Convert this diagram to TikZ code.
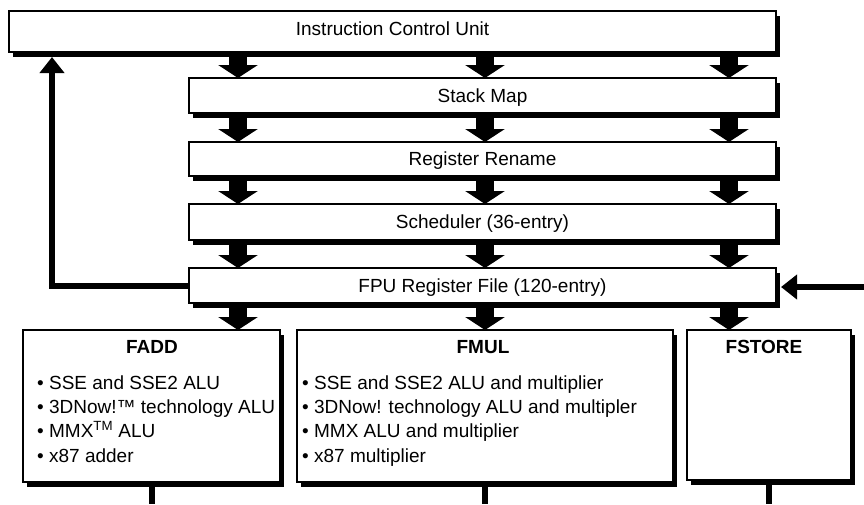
\documentclass[tikz,border=0pt]{standalone}
\usepackage{fontspec}
\setmainfont{Liberation Sans}
\usetikzlibrary{arrows.meta,shadows}
\begin{document}
\begin{tikzpicture}[x=1pt,y=-1pt,
  box/.style={draw=black, line width=1.6pt, fill=white, inner sep=0pt, outer sep=0pt,
    anchor=north west, font=\fontsize{19}{22}\selectfont, text height=13.6pt, text depth=0pt,
    drop shadow={shadow xshift=4pt, shadow yshift=-5pt, fill=black, opacity=1}},
  fat/.style={line width=18.5pt, -{Triangle[width=39pt,length=13pt]}},
  thinarr/.style={line width=6pt, -{Triangle[width=24pt,length=16pt]}},
  outline/.style={line width=6pt},
  lbl/.style={font=\fontsize{19}{22}\selectfont, inner sep=0pt, anchor=base west},
  ttl/.style={font=\fontsize{19}{22}\selectfont\bfseries, inner sep=0pt, anchor=base}]
\useasboundingbox (0,0) rectangle (864,504);

% pipeline boxes
\node[box, minimum width=767pt, minimum height=41pt, text depth=6pt] (icu) at (9,11) {Instruction Control Unit};
\node[box, minimum width=587pt, minimum height=35pt] (sm)  at (189,78)  {Stack Map};
\node[box, minimum width=587pt, minimum height=34pt] (rr)  at (189,142) {Register Rename};
\node[box, minimum width=587pt, minimum height=36pt] (sch) at (189,204) {Scheduler (36-entry)};
\node[box, minimum width=587pt, minimum height=35pt] (fpu) at (189,268) {FPU Register File (120-entry)};

% execution units
\node[box, minimum width=257pt, minimum height=152pt] (fadd) at (23,330) {};
\node[box, minimum width=376pt, minimum height=152pt] (fmul) at (297,330) {};
\node[box, minimum width=164pt, minimum height=150pt] (fst)  at (687,330) {};

\node[ttl] (faddT) at (152,353) {FADD};
\node[ttl] (fmulT) at (483,353) {FMUL};
\node[ttl] (fstT)  at (764,353) {FSTORE};

\node[lbl] (fa1) at (37,389) {• SSE and SSE2 ALU};
\node[lbl] (fa2) at (37,413) {• 3DNow!™ technology ALU};
\node[lbl] (fa3) at (37,437) {• MMX\textsuperscript{TM} ALU};
\node[lbl] (fa4) at (37,462) {• x87 adder};

\node[lbl] (fm1) at (302,389) {• SSE and SSE2 ALU and multiplier};
\node[lbl] (fm2) at (302,413) {• 3DNow! technology ALU and multipler};
\node[lbl] (fm3) at (302,437) {• MMX ALU and multiplier};
\node[lbl] (fm4) at (302,462) {• x87 multiplier};

% arrow columns
\coordinate (c1) at (238,0);
\coordinate (c2) at (485,0);
\coordinate (c3) at (729,0);

\foreach \c in {c1,c2,c3} {
  \draw[fat] (icu.south -| \c) -- (sm.north -| \c);
  \draw[fat] (sm.south -| \c)  -- (rr.north -| \c);
  \draw[fat] (rr.south -| \c)  -- (sch.north -| \c);
  \draw[fat] (sch.south -| \c) -- (fpu.north -| \c);
}
\draw[fat] (fpu.south -| c1) -- (fadd.north -| c1);
\draw[fat] (fpu.south -| c2) -- (fmul.north -| c2);
\draw[fat] (fpu.south -| c3) -- (fst.north -| c3);

% feedback to ICU
\coordinate (fb) at (52,57);
\draw[thinarr] (fpu.west) -| (fb);

% input from right
\coordinate (rin) at (864,287);
\coordinate (rtip) at (781,287);
\draw[thinarr] (rin) -- (rtip);

% outputs
\coordinate (bot) at (0,504);
\draw[outline] (fadd.south) -- (fadd.south |- bot);
\draw[outline] (fmul.south) -- (fmul.south |- bot);
\draw[outline] (fst.south)  -- (fst.south |- bot);
\end{tikzpicture}
\end{document}
